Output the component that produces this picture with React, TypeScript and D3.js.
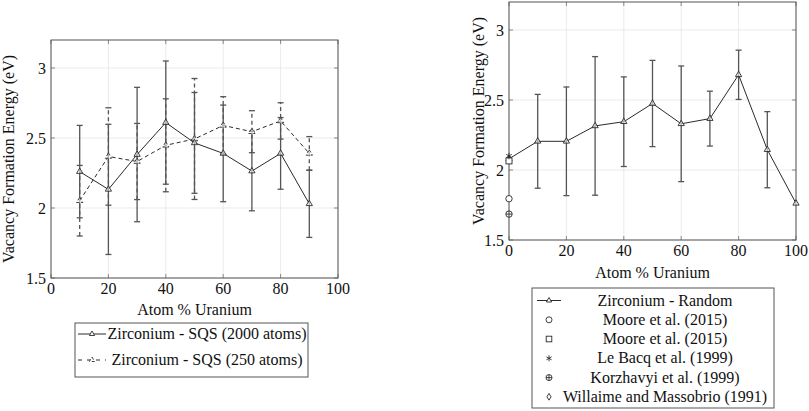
import React from "react";
import * as d3 from "d3";

const xSQS = [10, 20, 30, 40, 50, 60, 70, 80, 90];
const sqs2000 = [2.26, 2.133, 2.382, 2.61, 2.465, 2.39, 2.264, 2.39, 2.03];
const sqs2000Err = [0.33, 0.465, 0.48, 0.44, 0.36, 0.345, 0.284, 0.256, 0.24];
const sqs250 = [2.052, 2.368, 2.332, 2.448, 2.493, 2.59, 2.545, 2.622, 2.39];
const sqs250Err = [0.252, 0.348, 0.272, 0.332, 0.432, 0.205, 0.15, 0.13, 0.12];

const xRandom = [0, 10, 20, 30, 40, 50, 60, 70, 80, 90, 100];
const random = [2.08, 2.205, 2.205, 2.315, 2.345, 2.475, 2.33, 2.367, 2.68, 2.145, 1.762];
const randomErr = [0, 0.335, 0.388, 0.495, 0.32, 0.308, 0.413, 0.196, 0.176, 0.272, 0];

const refMoore1 = 1.795;
const refMoore2 = 2.065;
const refLeBacq = 2.1;
const refKorzhavyi = 1.685;
const refWillaime = 2.07;

const xTicks = [0, 20, 40, 60, 80, 100];
const yTicks = [1.5, 2, 2.5, 3];
const yTickLabels = ["1.5", "2", "2.5", "3"];

const legendLeft = ["Zirconium - SQS (2000 atoms)", "Zirconium - SQS (250 atoms)"];
const legendRight = [
  "Zirconium - Random",
  "Moore et al. (2015)",
  "Moore et al. (2015)",
  "Le Bacq et al. (1999)",
  "Korzhavyi et al. (1999)",
  "Willaime and Massobrio (1991)",
];

const TXT: React.CSSProperties = { fontFamily: '"Liberation Serif"', fontSize: 16 };
const INK = "#2a2a2a";
const BAR = "#555";

function tri(cx: number, cy: number, r: number) {
  return `M${cx},${cy - r}L${cx + r * 0.866},${cy + r * 0.5}L${cx - r * 0.866},${cy + r * 0.5}Z`;
}

function Axes({ x, y, xLabelY, yLabelX }: any) {
  const [x0, x1] = x.range();
  const [y0, y1] = y.range();
  return (
    <g>
      {xTicks.map((t) => (
        <line key={"gx" + t} x1={x(t)} x2={x(t)} y1={y0} y2={y1} stroke="#e6e6e6" strokeWidth={0.8} />
      ))}
      {yTicks.map((t) => (
        <line key={"gy" + t} x1={x0} x2={x1} y1={y(t)} y2={y(t)} stroke="#e6e6e6" strokeWidth={0.8} />
      ))}
      {xTicks.map((t) => (
        <g key={"tx" + t}>
          <line x1={x(t)} x2={x(t)} y1={y0} y2={y0 - 4} stroke="#888" />
          <line x1={x(t)} x2={x(t)} y1={y1} y2={y1 + 4} stroke="#888" />
          <text x={x(t)} y={y0 + 16} textAnchor="middle" style={TXT} fill="#111">
            {t}
          </text>
        </g>
      ))}
      {yTicks.map((t, i) => (
        <g key={"ty" + t}>
          <line x1={x0} x2={x0 + 4} y1={y(t)} y2={y(t)} stroke="#888" />
          <line x1={x1} x2={x1 - 4} y1={y(t)} y2={y(t)} stroke="#888" />
          <text x={x0 - 5} y={y(t) + 5.5} textAnchor="end" style={TXT} fill="#111">
            {yTickLabels[i]}
          </text>
        </g>
      ))}
      <rect x={x0} y={y1} width={x1 - x0} height={y0 - y1} fill="none" stroke="#555" strokeWidth={1} />
      <text x={(x0 + x1) / 2} y={xLabelY} textAnchor="middle" style={TXT} fill="#111">
        Atom % Uranium
      </text>
      <text
        transform={`translate(${yLabelX},${(y0 + y1) / 2}) rotate(-90)`}
        textAnchor="middle"
        style={TXT}
        fill="#111"
      >
        Vacancy Formation Energy (eV)
      </text>
    </g>
  );
}

function ErrBars({ xs, vs, es, x, y, dash }: any) {
  return (
    <g stroke={BAR} strokeWidth={1.3} fill="none">
      {xs.map((xv: number, i: number) =>
        es[i] > 0 ? (
          <g key={i}>
            <line x1={x(xv)} x2={x(xv)} y1={y(vs[i] - es[i])} y2={y(vs[i] + es[i])} strokeDasharray={dash} />
            <line x1={x(xv) - 3} x2={x(xv) + 3} y1={y(vs[i] - es[i])} y2={y(vs[i] - es[i])} />
            <line x1={x(xv) - 3} x2={x(xv) + 3} y1={y(vs[i] + es[i])} y2={y(vs[i] + es[i])} />
          </g>
        ) : null
      )}
    </g>
  );
}

function Series({ xs, vs, x, y, dash }: any) {
  const line = d3
    .line<number>()
    .x((_, i) => x(xs[i]))
    .y((d) => y(d));
  return (
    <g>
      <path d={line(vs) || ""} fill="none" stroke={INK} strokeWidth={1} strokeDasharray={dash} />
      {vs.map((v: number, i: number) => (
        <path key={i} d={tri(x(xs[i]), y(v), 3.6)} fill="white" fillOpacity={0.6} stroke={INK} strokeWidth={0.9} strokeDasharray={dash ? "3,2" : undefined} />
      ))}
    </g>
  );
}

function Circle({ cx, cy, r }: any) {
  return <circle cx={cx} cy={cy} r={r} fill="white" stroke={INK} strokeWidth={0.9} />;
}
function Square({ cx, cy, r }: any) {
  return <rect x={cx - r} y={cy - r} width={2 * r} height={2 * r} fill="white" stroke={INK} strokeWidth={0.9} />;
}
function Star({ cx, cy, r }: any) {
  return (
    <g stroke={INK} strokeWidth={0.9}>
      {[90, 30, -30].map((a) => {
        const rad = (a * Math.PI) / 180;
        return <line key={a} x1={cx - r * Math.cos(rad)} y1={cy - r * Math.sin(rad)} x2={cx + r * Math.cos(rad)} y2={cy + r * Math.sin(rad)} />;
      })}
    </g>
  );
}
function OPlus({ cx, cy, r }: any) {
  return (
    <g stroke={INK} strokeWidth={0.9} fill="white">
      <circle cx={cx} cy={cy} r={r} />
      <line x1={cx - r} x2={cx + r} y1={cy} y2={cy} />
      <line x1={cx} x2={cx} y1={cy - r} y2={cy + r} />
    </g>
  );
}
function Diamond({ cx, cy, r }: any) {
  return <path d={`M${cx},${cy - r * 1.3}L${cx + r * 0.8},${cy}L${cx},${cy + r * 1.3}L${cx - r * 0.8},${cy}Z`} fill="white" stroke={INK} strokeWidth={0.9} />;
}

export default function App() {
  const xL = d3.scaleLinear().domain([0, 100]).range([51, 338]);
  const yL = d3.scaleLinear().domain([1.5, 3.2]).range([278, 40]);
  const xR = d3.scaleLinear().domain([0, 100]).range([509, 796]);
  const yR = d3.scaleLinear().domain([1.5, 3.2]).range([240, 2]);

  const rightRowY = [300.5, 319.8, 339, 358.3, 377.6, 396.8];
  const rightMarkers = [
    null,
    (cx: number, cy: number) => <Circle cx={cx} cy={cy} r={3} />,
    (cx: number, cy: number) => <Square cx={cx} cy={cy} r={2.8} />,
    (cx: number, cy: number) => <Star cx={cx} cy={cy} r={3} />,
    (cx: number, cy: number) => <OPlus cx={cx} cy={cy} r={3} />,
    (cx: number, cy: number) => <Diamond cx={cx} cy={cy} r={2.6} />,
  ];

  return (
    <svg width={809} height={411} style={{ position: "absolute", left: 0, top: 0, background: "white" }}>
      <rect width={809} height={411} fill="white" />
      {/* Left chart */}
      <Axes x={xL} y={yL} xLabelY={315} yLabelX={14} />
      <ErrBars xs={xSQS} vs={sqs250} es={sqs250Err} x={xL} y={yL} dash="4,3" />
      <ErrBars xs={xSQS} vs={sqs2000} es={sqs2000Err} x={xL} y={yL} />
      <Series xs={xSQS} vs={sqs250} x={xL} y={yL} dash="4,3" />
      <Series xs={xSQS} vs={sqs2000} x={xL} y={yL} />

      {/* Left legend */}
      <rect x={75} y={323} width={233} height={54} fill="white" stroke="#555" strokeWidth={1} />
      <line x1={78} x2={106} y1={334} y2={334} stroke={INK} strokeWidth={1} />
      <path d={tri(92, 334, 3)} fill="white" stroke={INK} strokeWidth={0.9} />
      <line x1={78} x2={106} y1={360} y2={360} stroke={INK} strokeWidth={1} strokeDasharray="4,5" />
      <path d={tri(92, 360, 3)} fill="white" stroke={INK} strokeWidth={0.9} strokeDasharray="3,2" />
      <text x={207} y={339} textAnchor="middle" style={TXT} fill="#111">
        {legendLeft[0]}
      </text>
      <text x={207} y={365} textAnchor="middle" style={TXT} fill="#111">
        {legendLeft[1]}
      </text>

      {/* Right chart */}
      <Axes x={xR} y={yR} xLabelY={278} yLabelX={484} />
      <ErrBars xs={xRandom} vs={random} es={randomErr} x={xR} y={yR} />
      <Series xs={xRandom} vs={random} x={xR} y={yR} />
      <Circle cx={xR(0)} cy={yR(refMoore1)} r={3.2} />
      <Diamond cx={xR(0)} cy={yR(refWillaime)} r={2.8} />
      <Square cx={xR(0)} cy={yR(refMoore2)} r={3} />
      <Star cx={xR(0)} cy={yR(refLeBacq)} r={3.2} />
      <OPlus cx={xR(0)} cy={yR(refKorzhavyi)} r={3.2} />

      {/* Right legend */}
      <rect x={532} y={288} width={242} height={120} fill="white" stroke="#555" strokeWidth={1} />
      <line x1={537} x2={561} y1={rightRowY[0]} y2={rightRowY[0]} stroke={INK} strokeWidth={1} />
      <path d={tri(549, rightRowY[0], 3)} fill="white" stroke={INK} strokeWidth={0.9} />
      {rightMarkers.map((m, i) => (m ? <g key={i}>{m(549, rightRowY[i])}</g> : null))}
      {legendRight.map((t, i) => (
        <text key={i} x={665} y={rightRowY[i] + 5} textAnchor="middle" style={TXT} fill="#111">
          {t}
        </text>
      ))}
    </svg>
  );
}
